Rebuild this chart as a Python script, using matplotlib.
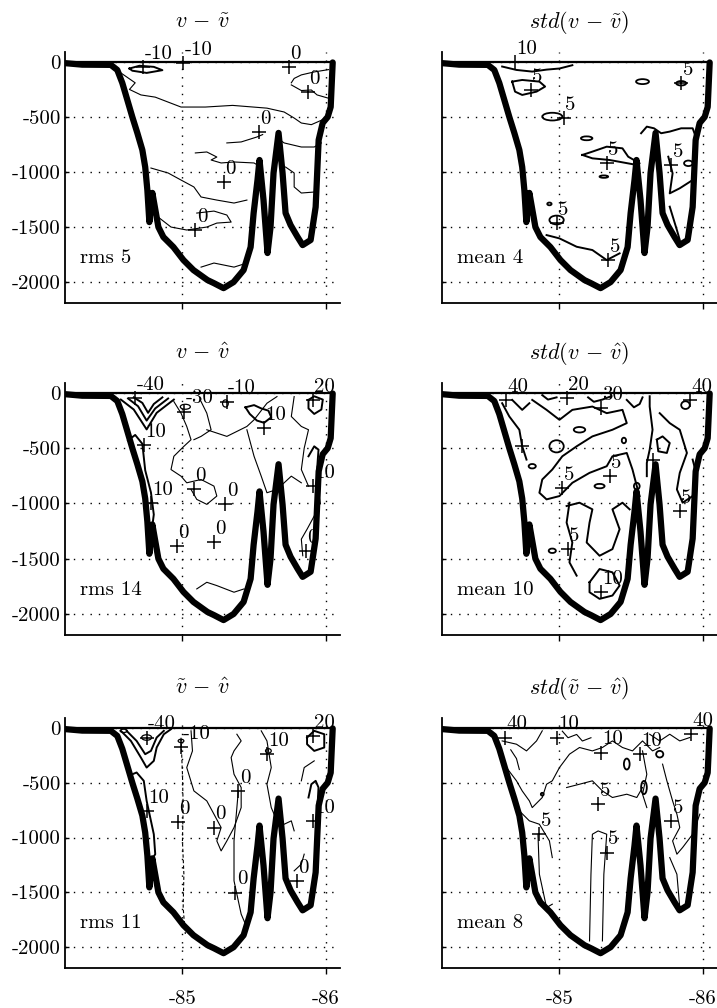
import matplotlib
matplotlib.use('Agg')
import matplotlib.pyplot as plt
from matplotlib.patches import Ellipse

plt.rcParams['font.family'] = 'serif'
plt.rcParams['font.serif'] = ['cmr10', 'DejaVu Serif']
plt.rcParams['mathtext.fontset'] = 'cm'
plt.rcParams['axes.unicode_minus'] = False
plt.rcParams['axes.formatter.use_mathtext'] = True

# bottom topography of the section (lon, depth in m)
bathy_lon = [-84.17, -84.30, -84.50, -84.545, -84.58, -84.615, -84.65, -84.685,
             -84.72, -84.74, -84.755, -84.769, -84.783, -84.79, -84.811,
             -84.832, -84.867, -84.937, -85.007, -85.077, -85.175, -85.22,
             -85.287, -85.357, -85.427, -85.476, -85.497, -85.524, -85.538,
             -85.566, -85.594, -85.615, -85.636, -85.671, -85.699, -85.72,
             -85.755, -85.804, -85.839, -85.895, -85.93, -85.951, -85.979,
             -86.014, -86.035, -86.049]
bathy_dep = [-10, -25, -27, -73, -191, -345, -500, -645, -800, -955, -1164,
             -1455, -1255, -1190, -1345, -1500, -1591, -1682, -1800, -1891,
             -1982, -2010, -2055, -2000, -1891, -1682, -1373, -1073, -891,
             -1255, -1736, -1500, -1009, -645, -1009, -1373, -1482, -1591,
             -1664, -1618, -1318, -709, -555, -500, -409, -5]

titles = [r'$v\,-\,\tilde{v}$', r'$std(v\,-\,\tilde{v})$',
          r'$v\,-\,\hat{v}$', r'$std(v\,-\,\hat{v})$',
          r'$\tilde{v}\,-\,\hat{v}$', r'$std(\tilde{v}\,-\,\hat{v})$']
notes = ['rms 5', 'mean 4', 'rms 14', 'mean 10', 'rms 11', 'mean 8']

ytick_vals = [0, -500, -1000, -1500, -2000]
ytick_txt = ['0', '-500', '-1000', '-1500', '-2000']
xtick_vals = [-85, -86]
xtick_txt = ['-85', '-86']

# ---- panel 1 : v - v~
p1_thin = [
    [(-84.57, -100), (-84.62, -145), (-84.67, -190), (-84.63, -250), (-84.71, -300),
     (-84.81, -320), (-84.99, -410), (-85.16, -410), (-85.35, -395), (-85.59, -420),
     (-85.71, -455), (-85.78, -510), (-85.83, -555), (-85.90, -570), (-85.97, -530),
     (-86.00, -500)],
    [(-85.76, -190), (-85.78, -150), (-85.83, -118), (-85.92, -91), (-86.02, -70)],
    [(-86.02, -330), (-85.94, -300), (-85.90, -255), (-85.83, -260), (-85.76, -209)],
    [(-85.31, -736), (-85.41, -727), (-85.52, -682), (-85.56, -660)],
    [(-85.66, -690), (-85.71, -736), (-85.83, -773), (-85.92, -773), (-85.97, -736)],
    [(-85.09, -827), (-85.17, -818), (-85.24, -864), (-85.20, -891), (-85.27, -918),
     (-85.36, -909), (-85.50, -918), (-85.54, -950)],
    [(-84.78, -964), (-84.90, -1009), (-84.99, -1073), (-85.08, -1136), (-85.13, -1227),
     (-85.24, -1255), (-85.36, -1282), (-85.45, -1255)],
    [(-85.10, -1373), (-85.22, -1355), (-85.31, -1391), (-85.34, -1455), (-85.24, -1464),
     (-85.17, -1500), (-85.03, -1527), (-84.92, -1500), (-84.83, -1409)],
    [(-85.13, -1864), (-85.22, -1827), (-85.36, -1864), (-85.45, -1827)],
    [(-85.72, -955), (-85.78, -1009), (-85.78, -1136), (-85.83, -1191), (-85.92, -1182)],
]
p1_thick = [
    [(-84.63, -60), (-84.70, -35), (-84.80, -45), (-84.86, -75), (-84.75, -100),
     (-84.65, -80), (-84.63, -60)],
]
p1_ell = []
p1_marks = [(-84.727, -45, '-10'), (-85.007, -9, '-10'), (-85.741, -45, '0'),
            (-85.874, -273, '0'), (-85.531, -636, '0'), (-85.287, -1091, '0'),
            (-85.091, -1527, '0')]

# ---- panel 2 : std(v - v~)
p2_thin = []
p2_thick = [
    [(-84.60, -42), (-84.70, -73), (-84.81, -88), (-84.91, -70), (-85.00, -60), (-85.09, -30)],
    [(-84.67, -179), (-84.74, -164), (-84.86, -179), (-84.90, -224), (-84.84, -270),
     (-84.74, -300), (-84.69, -270), (-84.67, -179)],
    [(-85.16, -845), (-85.23, -815), (-85.33, -770), (-85.44, -785), (-85.48, -861),
     (-85.56, -921), (-85.54, -936), (-85.35, -891), (-85.23, -876), (-85.16, -845)],
    [(-85.57, -648), (-85.61, -588), (-85.66, -603), (-85.71, -648), (-85.77, -633),
     (-85.85, -603), (-85.93, -603), (-85.96, -709)],
    [(-85.76, -861), (-85.79, -1012), (-85.77, -1194), (-85.84, -1148), (-85.93, -1073)],
    [(-85.77, -1315), (-85.82, -1527), (-85.84, -1618)],
    [(-84.91, -1573), (-85.00, -1603), (-85.12, -1679), (-85.23, -1709), (-85.33, -1800),
     (-85.42, -1739)],
]
p2_ell = [(-84.95, -497, 0.14, 70), (-85.58, -179, 0.09, 45), (-85.19, -694, 0.08, 35),
          (-85.31, -1042, 0.06, 22), (-84.98, -1436, 0.10, 80), (-85.90, -921, 0.06, 50),
          (-85.85, -194, 0.07, 40), (-84.93, -1290, 0.03, 25)]
p2_marks = [(-84.69, -5, '10'), (-84.80, -255, '5'), (-85.03, -512, '5'),
            (-85.33, -921, '5'), (-85.78, -936, '5'), (-84.98, -1467, '5'),
            (-85.34, -1800, '5'), (-85.85, -194, '5')]

# ---- panel 3 : v - v^
p3_thin = [
    [(-84.94, -78), (-84.99, -183), (-85.03, -303), (-85.06, -423), (-85.01, -483),
     (-84.94, -573), (-84.92, -693), (-84.99, -753), (-85.03, -813), (-85.13, -783),
     (-85.22, -843), (-85.24, -933), (-85.17, -1008), (-85.10, -963), (-85.06, -873)],
    [(-85.13, -78), (-85.17, -183), (-85.20, -333), (-85.13, -393), (-85.08, -423)],
    [(-85.17, -333), (-85.31, -393), (-85.45, -303), (-85.50, -243), (-85.59, -93),
     (-85.66, -33)],
    [(-85.45, -333), (-85.50, -573), (-85.55, -753), (-85.59, -903), (-85.66, -873),
     (-85.76, -753), (-85.83, -813)],
    [(-85.78, -33), (-85.76, -213), (-85.83, -303), (-85.88, -333), (-85.85, -500),
     (-85.83, -693), (-85.88, -843)],
    [(-85.92, -1113), (-85.87, -1233), (-85.83, -1323), (-85.84, -1473)],
    [(-85.10, -1773), (-85.17, -1713), (-85.24, -1743), (-85.36, -1803), (-85.43, -1773)],
]
p3_thick = [
    [(-84.57, -60), (-84.66, -150), (-84.75, -330), (-84.82, -180), (-84.94, -60)],
    [(-84.62, -50), (-84.69, -120), (-84.75, -250), (-84.81, -140), (-84.90, -50)],
    [(-84.66, -40), (-84.72, -90), (-84.76, -180), (-84.80, -100), (-84.86, -40)],
    [(-84.62, -430), (-84.67, -380), (-84.72, -460), (-84.74, -700), (-84.78, -900),
     (-84.80, -1100), (-84.78, -1300)],
    [(-85.88, -573), (-85.92, -483), (-85.95, -513), (-85.94, -693), (-85.94, -843),
     (-85.96, -1000)],
    [(-85.88, -63), (-85.92, -30), (-85.98, -60), (-85.97, -150), (-85.92, -190),
     (-85.88, -140), (-85.88, -63)],
    [(-85.44, -130), (-85.50, -110), (-85.55, -140), (-85.60, -160), (-85.62, -220),
     (-85.57, -270), (-85.52, -250), (-85.47, -190), (-85.44, -130)],
]
p3_ell = [(-85.02, -125, 0.07, 45), (-85.30, -95, 0.04, 65)]
p3_marks = [(-84.67, -48, '-40'), (-85.01, -168, '-30'), (-85.31, -78, '-10'),
            (-85.57, -318, '10'), (-85.91, -63, '20'), (-84.73, -468, '10'),
            (-84.78, -993, '10'), (-85.08, -873, '0'), (-85.30, -1008, '0'),
            (-84.96, -1383, '0'), (-85.22, -1353, '0'), (-85.91, -843, '10'),
            (-85.86, -1428, '0')]

# ---- panel 4 : std(v - v^)
p4_thin = []
p4_thick = [
    [(-84.81, -63), (-84.91, -153), (-85.00, -243), (-85.09, -153), (-85.23, -123),
     (-85.33, -183), (-85.44, -153), (-85.47, -273), (-85.37, -333), (-85.23, -393),
     (-85.12, -483), (-85.02, -573), (-84.95, -693), (-84.88, -783), (-84.86, -903),
     (-84.91, -963), (-85.00, -933), (-85.09, -813), (-85.21, -723), (-85.33, -663),
     (-85.37, -573), (-85.47, -543), (-85.51, -693), (-85.54, -843), (-85.56, -933)],
    [(-85.05, -1023), (-85.14, -993), (-85.23, -1053), (-85.21, -1173), (-85.19, -1353),
     (-85.28, -1473), (-85.37, -1413), (-85.42, -1233), (-85.37, -1053), (-85.44, -993),
     (-85.49, -1053)],
    [(-85.07, -993), (-85.05, -1173), (-85.09, -1353), (-85.07, -1533), (-85.12, -1653)],
    [(-85.21, -1713), (-85.28, -1593), (-85.37, -1623), (-85.42, -1743), (-85.37, -1833),
     (-85.28, -1863), (-85.21, -1803), (-85.21, -1713)],
    [(-85.70, -183), (-85.77, -273), (-85.84, -333), (-85.89, -543), (-85.84, -723),
     (-85.82, -873), (-85.86, -993), (-85.93, -933), (-85.96, -753), (-85.93, -603)],
    [(-85.68, -423), (-85.72, -393), (-85.77, -453), (-85.75, -543), (-85.69, -528),
     (-85.68, -423)],
    [(-84.60, -93), (-84.65, -213), (-84.72, -333), (-84.74, -483), (-84.77, -603)],
    [(-84.67, -63), (-84.74, -153), (-84.79, -93)],
    [(-85.63, -30), (-85.63, -123), (-85.65, -333), (-85.63, -513), (-85.61, -633),
     (-85.61, -753)],
    [(-85.47, -63), (-85.52, -130), (-85.56, -100), (-85.58, -40)],
    [(-85.20, -40), (-85.24, -80), (-85.30, -60), (-85.36, -30)],
    [(-84.88, -20), (-84.92, -60), (-84.98, -40)],
]
p4_ell = [(-84.98, -483, 0.10, 110), (-85.28, -843, 0.07, 40), (-85.54, -843, 0.04, 60),
          (-84.95, -1428, 0.05, 40), (-84.81, -663, 0.05, 40), (-85.14, -333, 0.08, 50),
          (-85.88, -110, 0.06, 70), (-85.45, -430, 0.03, 50)]
p4_marks = [(-84.63, -63, '40'), (-85.05, -48, '20'), (-85.29, -138, '30'),
            (-85.91, -63, '40'), (-85.35, -753, '5'), (-85.02, -858, '5'),
            (-85.84, -1068, '5'), (-85.06, -1413, '5'), (-85.29, -1803, '10'),
            (-85.65, -603, ''), (-84.74, -483, '')]

# ---- panel 5 : v~ - v^
p5_thin = [
    [(-85.06, -27), (-85.07, -210), (-85.03, -362), (-85.08, -575), (-85.17, -666),
     (-85.22, -787), (-85.27, -909), (-85.24, -1031), (-85.27, -1122), (-85.31, -1031),
     (-85.36, -909), (-85.41, -727), (-85.41, -544), (-85.36, -423), (-85.34, -271),
     (-85.36, -210), (-85.41, -119), (-85.38, -58)],
    [(-85.55, -27), (-85.59, -119), (-85.62, -362), (-85.59, -514), (-85.62, -727),
     (-85.66, -848), (-85.71, -879), (-85.76, -848), (-85.78, -939)],
    [(-85.83, -483), (-85.85, -362), (-85.92, -301)],
    [(-85.39, -575), (-85.38, -727), (-85.36, -1031), (-85.36, -1395), (-85.41, -1699),
     (-85.45, -1821)],
    [(-85.78, -1304), (-85.83, -1243), (-85.85, -1152)],
]
p5_dash = [
    [(-84.99, -90), (-85.00, -420), (-85.005, -720), (-85.00, -1031), (-85.01, -1335),
     (-85.005, -1640), (-85.02, -1880)],
]
p5_thick = [
    [(-84.57, -27), (-84.64, -119), (-84.71, -271), (-84.75, -362), (-84.80, -301),
     (-84.82, -179), (-84.87, -58), (-84.92, -12)],
    [(-84.61, -27), (-84.68, -119), (-84.74, -240), (-84.78, -210), (-84.82, -88),
     (-84.87, -27)],
    [(-84.65, -423), (-84.68, -407), (-84.73, -483), (-84.75, -666), (-84.78, -848),
     (-84.80, -970), (-84.81, -1152), (-84.78, -1213)],
    [(-85.88, -635), (-85.90, -514), (-85.93, -483), (-85.95, -544), (-85.94, -787),
     (-85.94, -909)],
    [(-85.87, -88), (-85.92, -27), (-85.99, -58), (-85.99, -179), (-85.92, -210),
     (-85.87, -149), (-85.87, -88)],
]
p5_ell = [(-84.75, -88, 0.07, 50), (-84.59, -27, 0.05, 30), (-85.60, -210, 0.04, 40),
          (-84.99, -119, 0.04, 30)]
p5_marks = [(-84.75, -88, '-40'), (-84.99, -179, '-10'), (-85.59, -240, '10'),
            (-85.91, -73, '20'), (-84.75, -757, '10'), (-84.97, -863, '0'),
            (-85.22, -909, '0'), (-85.39, -575, '0'), (-85.91, -848, '10'),
            (-85.37, -1502, '0'), (-85.80, -1395, '0')]

# ---- panel 6 : std(v~ - v^)
p6_thin = [
    [(-84.60, -119), (-84.70, -149), (-84.77, -210), (-84.84, -119), (-84.88, -27)],
    [(-84.63, -362), (-84.70, -483), (-84.74, -575), (-84.79, -666), (-84.81, -727),
     (-84.88, -635), (-84.91, -514), (-84.95, -483), (-85.00, -362), (-85.07, -240),
     (-85.14, -179), (-85.23, -210), (-85.30, -179), (-85.37, -119), (-85.44, -179),
     (-85.51, -210), (-85.58, -119), (-85.65, -210), (-85.70, -179)],
    [(-85.05, -544), (-85.14, -514), (-85.23, -483), (-85.30, -575), (-85.37, -635),
     (-85.47, -605), (-85.54, -635), (-85.58, -544)],
    [(-84.72, -757), (-84.79, -848), (-84.86, -879), (-84.93, -1031), (-84.95, -1183)],
    [(-84.85, -970), (-84.86, -1335), (-84.91, -1639), (-84.95, -1608)],
    [(-85.21, -1943), (-85.22, -1335), (-85.23, -970), (-85.27, -940), (-85.33, -970),
     (-85.31, -1335), (-85.30, -1943)],
    [(-85.58, -210), (-85.61, -423), (-85.58, -605), (-85.61, -727)],
    [(-85.72, -331), (-85.75, -483), (-85.79, -666), (-85.82, -787), (-85.84, -909),
     (-85.79, -1031), (-85.82, -1152), (-85.86, -1091), (-85.93, -970), (-85.98, -787)],
    [(-85.77, -1183), (-85.82, -1335), (-85.84, -1639)],
    [(-85.63, -58), (-85.70, -119), (-85.77, -58), (-85.84, -119), (-85.91, -88)],
    [(-84.66, -200), (-84.70, -280), (-84.72, -380)],
    [(-85.02, -30), (-85.06, -90), (-85.12, -60), (-85.16, -120), (-85.22, -90)],
]
p6_thick = []
p6_ell = [(-85.59, -544, 0.04, 120), (-84.88, -605, 0.02, 25), (-85.70, -240, 0.05, 60),
          (-85.47, -330, 0.04, 100)]
p6_marks = [(-84.62, -88, '40'), (-84.98, -88, '10'), (-85.29, -225, '10'),
            (-85.56, -240, '10'), (-85.92, -58, '40'), (-85.27, -696, '5'),
            (-84.86, -970, '5'), (-85.33, -1137, '5'), (-85.78, -848, '5')]

panels = [
    (p1_thin, p1_thick, [], p1_ell, p1_marks),
    (p2_thin, p2_thick, [], p2_ell, p2_marks),
    (p3_thin, p3_thick, [], p3_ell, p3_marks),
    (p4_thin, p4_thick, [], p4_ell, p4_marks),
    (p5_thin, p5_thick, p5_dash, p5_ell, p5_marks),
    (p6_thin, p6_thick, [], p6_ell, p6_marks),
]

W, H = 717., 1008.
fig = plt.figure(figsize=(7.17, 10.08), dpi=100, facecolor='white')

col_left = [65, 442]
ax_w = 275
rows = [(52, 303), (383, 635), (718, 968)]

fsz = 15

for i, (thin, thick, dash, ells, marks) in enumerate(panels):
    r, c = divmod(i, 2)
    top, bot = rows[r]
    ax = fig.add_axes([col_left[c] / W, 1 - bot / H, ax_w / W, (bot - top) / H])
    ax.set_xlim(-84.18, -86.10)
    ax.set_ylim(-2190, 90)

    # dotted grid
    for yv in ytick_vals:
        ax.axhline(yv, color='k', lw=1.0, ls=(0, (1, 5)), zorder=1)
    for xv in xtick_vals:
        ax.axvline(xv, color='k', lw=1.0, ls=(0, (1, 5)), zorder=1)

    for ln in thin:
        xs, ys = zip(*ln)
        ax.plot(xs, ys, color='k', lw=0.8, zorder=3)
    for ln in thick:
        xs, ys = zip(*ln)
        ax.plot(xs, ys, color='k', lw=1.4, zorder=3)
    for ln in dash:
        xs, ys = zip(*ln)
        ax.plot(xs, ys, color='k', lw=0.8, ls=(0, (3, 2)), zorder=3)
    for (ex, ey, ew, eh) in ells:
        ax.add_patch(Ellipse((ex, ey), ew, eh, fill=False, ec='k',
                             lw=1.3 if i % 2 else 0.9, zorder=3))

    for (mx, my, txt) in marks:
        ax.plot(mx, my, marker='+', ms=10, mew=1.1, color='k', zorder=6)
        if txt:
            ax.annotate(txt, (mx, my), xytext=(1, 3), textcoords='offset points',
                        ha='left', va='bottom', fontsize=fsz, zorder=7)

    # sea surface and bottom
    ax.plot([bathy_lon[0], bathy_lon[-1]], [0, 0], color='k', lw=1.6, zorder=4)
    ax.plot(bathy_lon, bathy_dep, color='k', lw=4.5, solid_joinstyle='round',
            solid_capstyle='round', zorder=5)

    ax.text(0.055, 0.18, notes[i], transform=ax.transAxes, fontsize=fsz,
            ha='left', va='center')
    ax.set_title(titles[i], fontsize=16, pad=17)

    ax.spines['top'].set_visible(False)
    ax.spines['right'].set_visible(False)
    ax.spines['left'].set_linewidth(1.3)
    ax.spines['bottom'].set_linewidth(1.3)

    ax.set_yticks(ytick_vals)
    if c == 0:
        ax.set_yticklabels(ytick_txt)
    else:
        ax.set_yticklabels([])
    ax.set_xticks(xtick_vals)
    if r == 2:
        ax.set_xticklabels(xtick_txt)
    else:
        ax.set_xticklabels([])
    ax.tick_params(axis='both', direction='in', length=3, width=1,
                   labelsize=fsz, pad=3)
    ax.tick_params(axis='x', direction='out', length=4, pad=12)

fig.savefig('out.png', dpi=100, facecolor='white')
